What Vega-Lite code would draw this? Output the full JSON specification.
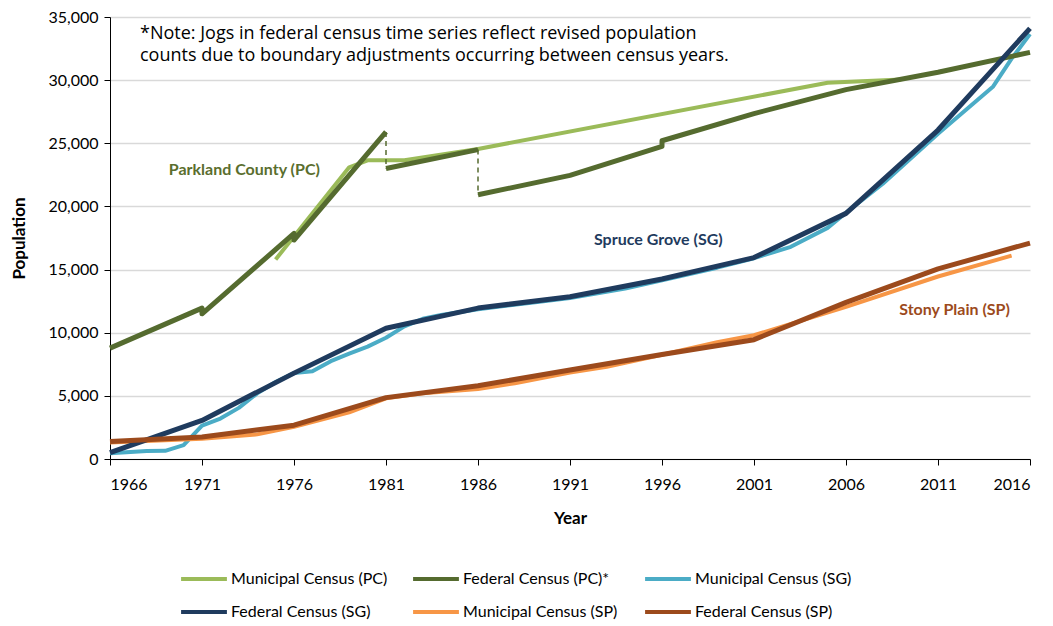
{
  "$schema": "https://vega.github.io/schema/vega-lite/v6.json",
  "width": 920,
  "height": 442,
  "autosize": {"type": "none"},
  "padding": {"left": 110, "top": 17, "right": 23, "bottom": 167},
  "background": "white",
  "config": {"font": "Lato", "view": {"stroke": null}},
  "datasets": {
    "census": [
      {"series": "Municipal Census (PC)", "type": "M", "year": 1975, "value": 15800, "seg": "A", "o": 1},
      {"series": "Municipal Census (PC)", "type": "M", "year": 1979, "value": 23100, "seg": "A", "o": 2},
      {"series": "Municipal Census (PC)", "type": "M", "year": 1980, "value": 23650, "seg": "A", "o": 3},
      {"series": "Municipal Census (PC)", "type": "M", "year": 1982, "value": 23650, "seg": "A", "o": 4},
      {"series": "Municipal Census (PC)", "type": "M", "year": 1986, "value": 24550, "seg": "A", "o": 5},
      {"series": "Municipal Census (PC)", "type": "M", "year": 2005, "value": 29800, "seg": "A", "o": 6},
      {"series": "Municipal Census (PC)", "type": "M", "year": 2009, "value": 30050, "seg": "A", "o": 7},

      {"series": "Municipal Census (SG)", "type": "M", "year": 1966, "value": 450, "seg": "A", "o": 1},
      {"series": "Municipal Census (SG)", "type": "M", "year": 1968, "value": 640, "seg": "A", "o": 2},
      {"series": "Municipal Census (SG)", "type": "M", "year": 1969, "value": 650, "seg": "A", "o": 3},
      {"series": "Municipal Census (SG)", "type": "M", "year": 1970, "value": 1100, "seg": "A", "o": 4},
      {"series": "Municipal Census (SG)", "type": "M", "year": 1971, "value": 2650, "seg": "A", "o": 5},
      {"series": "Municipal Census (SG)", "type": "M", "year": 1972, "value": 3200, "seg": "A", "o": 6},
      {"series": "Municipal Census (SG)", "type": "M", "year": 1973, "value": 4050, "seg": "A", "o": 7},
      {"series": "Municipal Census (SG)", "type": "M", "year": 1974, "value": 5200, "seg": "A", "o": 8},
      {"series": "Municipal Census (SG)", "type": "M", "year": 1975, "value": 6100, "seg": "A", "o": 9},
      {"series": "Municipal Census (SG)", "type": "M", "year": 1976, "value": 6800, "seg": "A", "o": 10},
      {"series": "Municipal Census (SG)", "type": "M", "year": 1977, "value": 6950, "seg": "A", "o": 11},
      {"series": "Municipal Census (SG)", "type": "M", "year": 1978, "value": 7750, "seg": "A", "o": 12},
      {"series": "Municipal Census (SG)", "type": "M", "year": 1979, "value": 8350, "seg": "A", "o": 13},
      {"series": "Municipal Census (SG)", "type": "M", "year": 1980, "value": 8900, "seg": "A", "o": 14},
      {"series": "Municipal Census (SG)", "type": "M", "year": 1981, "value": 9600, "seg": "A", "o": 15},
      {"series": "Municipal Census (SG)", "type": "M", "year": 1982, "value": 10500, "seg": "A", "o": 16},
      {"series": "Municipal Census (SG)", "type": "M", "year": 1983, "value": 11100, "seg": "A", "o": 17},
      {"series": "Municipal Census (SG)", "type": "M", "year": 1984, "value": 11400, "seg": "A", "o": 18},
      {"series": "Municipal Census (SG)", "type": "M", "year": 1986, "value": 11850, "seg": "A", "o": 19},
      {"series": "Municipal Census (SG)", "type": "M", "year": 1989, "value": 12400, "seg": "A", "o": 20},
      {"series": "Municipal Census (SG)", "type": "M", "year": 1991, "value": 12750, "seg": "A", "o": 21},
      {"series": "Municipal Census (SG)", "type": "M", "year": 1994, "value": 13500, "seg": "A", "o": 22},
      {"series": "Municipal Census (SG)", "type": "M", "year": 1996, "value": 14150, "seg": "A", "o": 23},
      {"series": "Municipal Census (SG)", "type": "M", "year": 1999, "value": 15150, "seg": "A", "o": 24},
      {"series": "Municipal Census (SG)", "type": "M", "year": 2001, "value": 15900, "seg": "A", "o": 25},
      {"series": "Municipal Census (SG)", "type": "M", "year": 2003, "value": 16800, "seg": "A", "o": 26},
      {"series": "Municipal Census (SG)", "type": "M", "year": 2005, "value": 18300, "seg": "A", "o": 27},
      {"series": "Municipal Census (SG)", "type": "M", "year": 2006, "value": 19500, "seg": "A", "o": 28},
      {"series": "Municipal Census (SG)", "type": "M", "year": 2008, "value": 21800, "seg": "A", "o": 29},
      {"series": "Municipal Census (SG)", "type": "M", "year": 2011, "value": 25750, "seg": "A", "o": 30},
      {"series": "Municipal Census (SG)", "type": "M", "year": 2014, "value": 29500, "seg": "A", "o": 31},
      {"series": "Municipal Census (SG)", "type": "M", "year": 2015, "value": 31700, "seg": "A", "o": 32},
      {"series": "Municipal Census (SG)", "type": "M", "year": 2016, "value": 33650, "seg": "A", "o": 33},

      {"series": "Municipal Census (SP)", "type": "M", "year": 1966, "value": 1300, "seg": "A", "o": 1},
      {"series": "Municipal Census (SP)", "type": "M", "year": 1971, "value": 1600, "seg": "A", "o": 2},
      {"series": "Municipal Census (SP)", "type": "M", "year": 1974, "value": 1950, "seg": "A", "o": 3},
      {"series": "Municipal Census (SP)", "type": "M", "year": 1976, "value": 2550, "seg": "A", "o": 4},
      {"series": "Municipal Census (SP)", "type": "M", "year": 1979, "value": 3700, "seg": "A", "o": 5},
      {"series": "Municipal Census (SP)", "type": "M", "year": 1981, "value": 4800, "seg": "A", "o": 6},
      {"series": "Municipal Census (SP)", "type": "M", "year": 1983, "value": 5200, "seg": "A", "o": 7},
      {"series": "Municipal Census (SP)", "type": "M", "year": 1986, "value": 5550, "seg": "A", "o": 8},
      {"series": "Municipal Census (SP)", "type": "M", "year": 1988, "value": 6000, "seg": "A", "o": 9},
      {"series": "Municipal Census (SP)", "type": "M", "year": 1991, "value": 6850, "seg": "A", "o": 10},
      {"series": "Municipal Census (SP)", "type": "M", "year": 1993, "value": 7300, "seg": "A", "o": 11},
      {"series": "Municipal Census (SP)", "type": "M", "year": 1996, "value": 8250, "seg": "A", "o": 12},
      {"series": "Municipal Census (SP)", "type": "M", "year": 1999, "value": 9250, "seg": "A", "o": 13},
      {"series": "Municipal Census (SP)", "type": "M", "year": 2001, "value": 9800, "seg": "A", "o": 14},
      {"series": "Municipal Census (SP)", "type": "M", "year": 2006, "value": 12050, "seg": "A", "o": 15},
      {"series": "Municipal Census (SP)", "type": "M", "year": 2011, "value": 14450, "seg": "A", "o": 16},
      {"series": "Municipal Census (SP)", "type": "M", "year": 2015, "value": 16100, "seg": "A", "o": 17},

      {"series": "Federal Census (PC)*", "type": "F", "year": 1966, "value": 8780, "seg": "A", "o": 1},
      {"series": "Federal Census (PC)*", "type": "F", "year": 1971, "value": 11950, "seg": "A", "o": 2},
      {"series": "Federal Census (PC)*", "type": "F", "year": 1971, "value": 11500, "seg": "A", "o": 3},
      {"series": "Federal Census (PC)*", "type": "F", "year": 1976, "value": 17860, "seg": "A", "o": 4},
      {"series": "Federal Census (PC)*", "type": "F", "year": 1976, "value": 17340, "seg": "A", "o": 5},
      {"series": "Federal Census (PC)*", "type": "F", "year": 1981, "value": 25900, "seg": "A", "o": 6},
      {"series": "Federal Census (PC)*", "type": "F", "year": 1981, "value": 23000, "seg": "B", "o": 7},
      {"series": "Federal Census (PC)*", "type": "F", "year": 1986, "value": 24500, "seg": "B", "o": 8},
      {"series": "Federal Census (PC)*", "type": "F", "year": 1986, "value": 20920, "seg": "C", "o": 9},
      {"series": "Federal Census (PC)*", "type": "F", "year": 1991, "value": 22460, "seg": "C", "o": 10},
      {"series": "Federal Census (PC)*", "type": "F", "year": 1996, "value": 24750, "seg": "C", "o": 11},
      {"series": "Federal Census (PC)*", "type": "F", "year": 1996, "value": 25200, "seg": "C", "o": 12},
      {"series": "Federal Census (PC)*", "type": "F", "year": 2001, "value": 27350, "seg": "C", "o": 13},
      {"series": "Federal Census (PC)*", "type": "F", "year": 2006, "value": 29250, "seg": "C", "o": 14},
      {"series": "Federal Census (PC)*", "type": "F", "year": 2011, "value": 30620, "seg": "C", "o": 15},
      {"series": "Federal Census (PC)*", "type": "F", "year": 2016, "value": 32200, "seg": "C", "o": 16},

      {"series": "Federal Census (SG)", "type": "F", "year": 1966, "value": 500, "seg": "A", "o": 1},
      {"series": "Federal Census (SG)", "type": "F", "year": 1971, "value": 3050, "seg": "A", "o": 2},
      {"series": "Federal Census (SG)", "type": "F", "year": 1976, "value": 6800, "seg": "A", "o": 3},
      {"series": "Federal Census (SG)", "type": "F", "year": 1981, "value": 10350, "seg": "A", "o": 4},
      {"series": "Federal Census (SG)", "type": "F", "year": 1986, "value": 11950, "seg": "A", "o": 5},
      {"series": "Federal Census (SG)", "type": "F", "year": 1991, "value": 12850, "seg": "A", "o": 6},
      {"series": "Federal Census (SG)", "type": "F", "year": 1996, "value": 14250, "seg": "A", "o": 7},
      {"series": "Federal Census (SG)", "type": "F", "year": 2001, "value": 15950, "seg": "A", "o": 8},
      {"series": "Federal Census (SG)", "type": "F", "year": 2006, "value": 19450, "seg": "A", "o": 9},
      {"series": "Federal Census (SG)", "type": "F", "year": 2011, "value": 26050, "seg": "A", "o": 10},
      {"series": "Federal Census (SG)", "type": "F", "year": 2016, "value": 34100, "seg": "A", "o": 11},

      {"series": "Federal Census (SP)", "type": "F", "year": 1966, "value": 1390, "seg": "A", "o": 1},
      {"series": "Federal Census (SP)", "type": "F", "year": 1971, "value": 1740, "seg": "A", "o": 2},
      {"series": "Federal Census (SP)", "type": "F", "year": 1976, "value": 2680, "seg": "A", "o": 3},
      {"series": "Federal Census (SP)", "type": "F", "year": 1981, "value": 4860, "seg": "A", "o": 4},
      {"series": "Federal Census (SP)", "type": "F", "year": 1986, "value": 5800, "seg": "A", "o": 5},
      {"series": "Federal Census (SP)", "type": "F", "year": 1991, "value": 7050, "seg": "A", "o": 6},
      {"series": "Federal Census (SP)", "type": "F", "year": 1996, "value": 8270, "seg": "A", "o": 7},
      {"series": "Federal Census (SP)", "type": "F", "year": 2001, "value": 9450, "seg": "A", "o": 8},
      {"series": "Federal Census (SP)", "type": "F", "year": 2006, "value": 12400, "seg": "A", "o": 9},
      {"series": "Federal Census (SP)", "type": "F", "year": 2011, "value": 15050, "seg": "A", "o": 10},
      {"series": "Federal Census (SP)", "type": "F", "year": 2016, "value": 17100, "seg": "A", "o": 11}
    ],
    "jogs": [
      {"year": 1981, "from": 25900, "to": 23000},
      {"year": 1986, "from": 24500, "to": 20920}
    ],
    "labels": [
      {"label": "Parkland County (PC)", "year": 1973.3, "value": 22850},
      {"label": "Spruce Grove (SG)", "year": 1995.8, "value": 17320},
      {"label": "Stony Plain (SP)", "year": 2011.9, "value": 11800}
    ],
    "note": [
      {"text": "*Note: Jogs in federal census time series reflect revised population\ncounts due to boundary adjustments occurring between census years.", "year": 1967.63, "value": 34400}
    ]
  },
  "layer": [
    {
      "data": {"name": "census"},
      "transform": [{"filter": "datum.type == 'M'"}],
      "mark": {"type": "line", "strokeWidth": 4, "strokeJoin": "round", "strokeCap": "butt"},
      "encoding": {
        "x": {
          "field": "year", "type": "quantitative",
          "scale": {"domain": [1966, 2016], "nice": false, "zero": false},
          "axis": {
            "title": "Year", "values": [1966, 1971, 1976, 1981, 1986, 1991, 1996, 2001, 2006, 2011, 2016],
            "format": "d", "grid": false, "domainColor": "#000000", "tickColor": "#000000",
            "tickSize": 6, "labelFontSize": 16, "labelColor": "#000000", "labelPadding": 11,
            "titleFontSize": 17, "titleFontWeight": "bold", "titleColor": "#000000", "titlePadding": 18
          }
        },
        "y": {
          "field": "value", "type": "quantitative",
          "scale": {"domain": [0, 35000], "nice": false},
          "axis": {
            "title": "Population", "values": [0, 5000, 10000, 15000, 20000, 25000, 30000, 35000],
            "format": ",d", "grid": true, "gridColor": "#d9d9d9", "gridWidth": 1.5,
            "domainColor": "#000000", "tickColor": "#000000", "tickSize": 6,
            "labelFontSize": 16, "labelColor": "#000000", "labelPadding": 6,
            "titleFontSize": 17, "titleFontWeight": "bold", "titleColor": "#000000", "titlePadding": 19
          }
        },
        "color": {
          "field": "series", "type": "nominal",
          "scale": {
            "domain": ["Municipal Census (PC)", "Federal Census (PC)*", "Municipal Census (SG)", "Federal Census (SG)", "Municipal Census (SP)", "Federal Census (SP)"],
            "range": ["#9bbb59", "#556b2f", "#4bacc6", "#1f3b5e", "#f79646", "#9c4a1c"]
          },
          "legend": {
            "orient": "none", "legendX": 69, "legendY": 537, "direction": "horizontal", "columns": 3,
            "title": null, "symbolType": "stroke", "symbolSize": 2100, "symbolStrokeWidth": 4,
            "labelFontSize": 16, "labelColor": "#000000", "rowPadding": -13, "columnPadding": 17,
            "gridAlign": "all", "labelOffset": 2, "padding": 0, "labelLimit": 300
          }
        }
      }
    },
    {
      "data": {"name": "census"},
      "transform": [{"filter": "datum.type == 'F'"}],
      "mark": {"type": "line", "strokeWidth": 5, "strokeJoin": "round", "strokeCap": "butt"},
      "encoding": {
        "x": {"field": "year", "type": "quantitative"},
        "y": {"field": "value", "type": "quantitative"},
        "color": {"field": "series", "type": "nominal"},
        "detail": {"field": "seg", "type": "nominal"},
        "order": {"field": "o", "type": "quantitative"}
      }
    },
    {
      "data": {"name": "jogs"},
      "mark": {"type": "rule", "color": "#556b2f", "strokeWidth": 1.5, "strokeDash": [5, 4]},
      "encoding": {
        "x": {"field": "year", "type": "quantitative"},
        "y": {"field": "from", "type": "quantitative"},
        "y2": {"field": "to"}
      }
    },
    {
      "data": {"name": "labels"},
      "transform": [{"filter": "datum.label == 'Parkland County (PC)'"}],
      "mark": {"type": "text", "fontSize": 16, "fontWeight": "bold", "color": "#5a6e2e", "align": "center", "baseline": "middle"},
      "encoding": {
        "x": {"field": "year", "type": "quantitative"},
        "y": {"field": "value", "type": "quantitative"},
        "text": {"field": "label"}
      }
    },
    {
      "data": {"name": "labels"},
      "transform": [{"filter": "datum.label == 'Spruce Grove (SG)'"}],
      "mark": {"type": "text", "fontSize": 16, "fontWeight": "bold", "color": "#1f3b5e", "align": "center", "baseline": "middle"},
      "encoding": {
        "x": {"field": "year", "type": "quantitative"},
        "y": {"field": "value", "type": "quantitative"},
        "text": {"field": "label"}
      }
    },
    {
      "data": {"name": "labels"},
      "transform": [{"filter": "datum.label == 'Stony Plain (SP)'"}],
      "mark": {"type": "text", "fontSize": 16, "fontWeight": "bold", "color": "#9c4a1c", "align": "center", "baseline": "middle"},
      "encoding": {
        "x": {"field": "year", "type": "quantitative"},
        "y": {"field": "value", "type": "quantitative"},
        "text": {"field": "label"}
      }
    },
    {
      "data": {"name": "note"},
      "mark": {"type": "text", "font": "Open Sans", "fontSize": 18, "color": "#000000", "align": "left", "baseline": "top", "lineBreak": "\n", "lineHeight": 22},
      "encoding": {
        "x": {"field": "year", "type": "quantitative"},
        "y": {"field": "value", "type": "quantitative"},
        "text": {"field": "text"}
      }
    }
  ]
}
